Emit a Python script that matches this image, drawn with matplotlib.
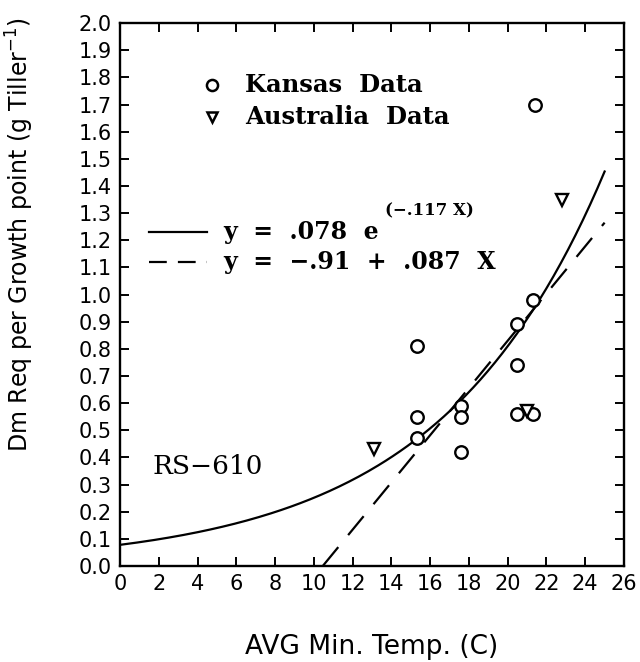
import numpy as np
import matplotlib
matplotlib.use("Agg")
import matplotlib.pyplot as plt

# Kansas observations (avg min temp, dm req per growth point)
kansas_x = [15.3, 15.3, 15.3, 17.6, 17.6, 17.6, 20.5, 20.5, 20.5, 21.3, 21.3, 21.4]
kansas_y = [0.81, 0.55, 0.47, 0.59, 0.55, 0.42, 0.89, 0.74, 0.56, 0.56, 0.98, 1.70]

# Australia observations
aus_x = [13.1, 21.0, 22.8]
aus_y = [0.43, 0.57, 1.35]

# fitted curves
exp_a, exp_b = 0.078, 0.117
lin_a, lin_b = -0.91, 0.087
fit_xmax = 25.0

xticks = np.arange(0, 27, 2)
yticks = np.round(np.arange(0, 2.01, 0.1), 1)

serif = "DejaVu Serif"

fig = plt.figure(figsize=(6.4, 6.62), dpi=100)
ax = fig.add_axes([0.1875, 0.145, 0.7875, 0.82])

# curves
xs = np.linspace(0, fit_xmax, 200)
ax.plot(xs, exp_a * np.exp(exp_b * xs), color="black", lw=1.6)
x0 = -lin_a / lin_b
xl = np.linspace(x0, fit_xmax, 50)
ax.plot(xl, lin_a + lin_b * xl, color="black", lw=1.6, dashes=(11, 7))

# points
ax.plot(kansas_x, kansas_y, "o", mfc="white", mec="black", mew=1.7, ms=9, ls="none")
ax.plot(aus_x, aus_y, "v", mfc="white", mec="black", mew=1.7, ms=8, ls="none")

ax.set_xlim(0, 26)
ax.set_ylim(0, 2.0)
ax.set_xticks(xticks)
ax.set_xticklabels([str(t) for t in xticks])
ax.set_yticks(yticks)
ax.set_yticklabels([f"{t:.1f}" for t in yticks])
ax.tick_params(direction="in", length=6.5, width=1.4, labelsize=15, pad=6,
               top=True, right=True)
for sp in ax.spines.values():
    sp.set_linewidth(1.7)

# legend (drawn by hand to match the original layout)
ax.plot([0.183], [0.886], "o", mfc="white", mec="black", mew=1.8, ms=8,
        transform=ax.transAxes, clip_on=False)
ax.text(0.248, 0.886, "Kansas  Data", transform=ax.transAxes, fontsize=17.5,
        family=serif, weight="bold", va="center")
ax.plot([0.183], [0.827], "v", mfc="white", mec="black", mew=1.8, ms=7.5,
        transform=ax.transAxes, clip_on=False)
ax.text(0.248, 0.827, "Australia  Data", transform=ax.transAxes, fontsize=17.5,
        family=serif, weight="bold", va="center")

ax.plot([0.058, 0.173], [0.615, 0.615], color="black", lw=1.6, transform=ax.transAxes)
ax.text(0.204, 0.615, "y  =  .078  e", transform=ax.transAxes, fontsize=17,
        family=serif, weight="bold", va="center")
ax.text(0.526, 0.655, "(\u2212.117 X)", transform=ax.transAxes, fontsize=12,
        family=serif, weight="bold", va="center")
ax.plot([0.058, 0.173], [0.560, 0.560], color="black", lw=1.6, dashes=(8, 5),
        transform=ax.transAxes)
ax.text(0.204, 0.560, "y  =  \u2212.91  +  .087  X", transform=ax.transAxes,
        fontsize=17, family=serif, weight="bold", va="center")

ax.text(0.065, 0.184, "RS\u2212610", transform=ax.transAxes, fontsize=19,
        family=serif, va="center")

fig.text(0.031, 1 - 235 / 662, "Dm Req per Growth point (g Tiller$^{-1}$)",
         rotation=90, fontsize=17, ha="center", va="center")
fig.text(0.58, 0.022, "AVG Min. Temp. (C)", fontsize=19, ha="center", va="center")

fig.savefig("out.png", dpi=100)
